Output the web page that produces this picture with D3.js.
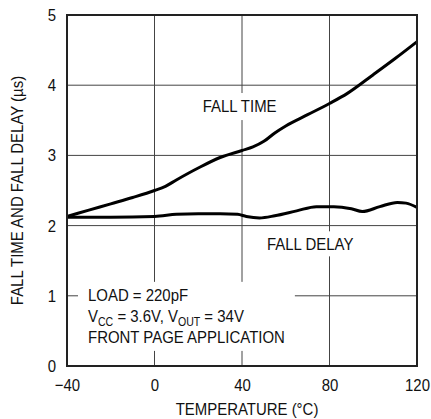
<!DOCTYPE html>
<html>
<head>
<meta charset="utf-8">
<script src="https://cdn.jsdelivr.net/npm/d3@7"></script>
<style>
  body { margin: 0; background: #fff; }
  text { font-family: "Liberation Sans", Arial, sans-serif; fill: #111; }
</style>
</head>
<body>
<div id="chart"></div>
<script>
// data
const fallTimeTemp = [-40, -30, -20, -10, 0, 5, 10, 20, 30, 40, 45, 50, 55, 60, 70, 80, 88, 100, 110, 120];
const fallTimeVal  = [2.13, 2.22, 2.31, 2.40, 2.50, 2.56, 2.65, 2.82, 2.97, 3.07, 3.12, 3.20, 3.32, 3.42, 3.58, 3.74, 3.88, 4.15, 4.38, 4.62];
const fallDelayTemp = [-40, -20, 0, 10, 20, 30, 38, 42, 48, 55, 65, 74, 82, 90, 95, 103, 111, 115, 120];
const fallDelayVal  = [2.12, 2.12, 2.13, 2.16, 2.17, 2.17, 2.16, 2.13, 2.11, 2.14, 2.21, 2.27, 2.27, 2.24, 2.20, 2.27, 2.33, 2.32, 2.26];
const xTicks = [-40, 0, 40, 80, 120];
const yTicks = [0, 1, 2, 3, 4, 5];

const margin = { top: 15, right: 14, bottom: 53, left: 67 };
const W = 431, H = 419;
const width = W - margin.left - margin.right;
const height = H - margin.top - margin.bottom;
const fs = 17;
const sx = 0.88; // squeeze to mimic a condensed face

const svg = d3.select('#chart').append('svg')
  .attr('width', W).attr('height', H)
  .append('g')
  .attr('transform', `translate(${margin.left},${margin.top})`);

const x = d3.scaleLinear().domain([-40, 120]).range([0, width]);
const y = d3.scaleLinear().domain([0, 5]).range([height, 0]);

function label(parent, px, py, str) {
  return parent.append('text')
    .attr('transform', `translate(${px},${py}) scale(${sx},1)`)
    .attr('font-size', fs)
    .text(str);
}

// grid
const grid = svg.append('g').attr('class', 'grid');
grid.selectAll('.vgrid').data(xTicks.slice(1, -1)).enter().append('line')
  .attr('x1', d => x(d)).attr('x2', d => x(d))
  .attr('y1', 0).attr('y2', height)
  .attr('stroke', '#444').attr('stroke-width', 1);
grid.selectAll('.hgrid').data(yTicks.slice(1, -1)).enter().append('line')
  .attr('y1', d => y(d)).attr('y2', d => y(d))
  .attr('x1', 0).attr('x2', width)
  .attr('stroke', '#444').attr('stroke-width', 1);

// labels with white boxes that cut the grid
const labels = svg.append('g');
function boxed(g, padX, padTop, padBot) {
  const b = g.node().getBBox();
  g.insert('rect', ':first-child')
    .attr('x', b.x - padX).attr('y', b.y + 4 - padTop)
    .attr('width', b.width + 2 * padX).attr('height', b.height - 7 + padTop + padBot)
    .attr('fill', '#fff');
}

const ft = labels.append('g');
label(ft, x(22), y(3.62), 'FALL TIME');
boxed(ft, 8, 8, 8);

const fd = labels.append('g');
label(fd, x(51.4), y(1.65), 'FALL DELAY');
boxed(fd, 8, 8, 6);

const cond = labels.append('g');
const cx = x(-30.4), cy = y(0.93);
label(cond, cx, cy, 'LOAD = 220pF');
const t2 = label(cond, cx, cy + 21, null);
t2.append('tspan').text('V');
t2.append('tspan').attr('font-size', 12).attr('dy', 4).text('CC');
t2.append('tspan').attr('dy', -4).text(' = 3.6V, V');
t2.append('tspan').attr('font-size', 12).attr('dy', 4).text('OUT');
t2.append('tspan').attr('dy', -4).text(' = 34V');
label(cond, cx, cy + 42, 'FRONT PAGE APPLICATION');
boxed(cond, 10, 8, 8);

// curves
const line = d3.line().x(d => x(d[0])).y(d => y(d[1])).curve(d3.curveMonotoneX);
svg.append('path').datum(d3.zip(fallTimeTemp, fallTimeVal))
  .attr('d', line).attr('fill', 'none').attr('stroke', '#000').attr('stroke-width', 3);
svg.append('path').datum(d3.zip(fallDelayTemp, fallDelayVal))
  .attr('d', line).attr('fill', 'none').attr('stroke', '#000').attr('stroke-width', 3);

// frame
svg.append('rect').attr('x', 0).attr('y', 0).attr('width', width).attr('height', height)
  .attr('fill', 'none').attr('stroke', '#222').attr('stroke-width', 2);

// axes (labels only)
const fmt = d => d < 0 ? '\u2212' + Math.abs(d) : String(d);
const xAxis = svg.append('g').attr('transform', `translate(0,${height})`)
  .call(d3.axisBottom(x).tickValues(xTicks).tickFormat(fmt).tickSize(0).tickPadding(13));
const yAxis = svg.append('g')
  .call(d3.axisLeft(y).tickValues(yTicks).tickFormat(fmt).tickSize(0).tickPadding(12.5));
[xAxis, yAxis].forEach(a => {
  a.select('.domain').remove();
  a.selectAll('text').attr('font-size', fs).attr('font-family', null).attr('fill', '#111')
    .attr('transform', `scale(${sx},1)`);
});
// keep x tick labels centred on their ticks after the squeeze
xAxis.selectAll('.tick text').attr('transform', `scale(${sx},1)`);

const xl = svg.append('text')
  .attr('transform', `translate(${width / 2 + 5},${height + 49}) scale(${sx},1)`)
  .attr('text-anchor', 'middle').attr('font-size', fs)
  .text('TEMPERATURE (°C)');

svg.append('text')
  .attr('transform', `translate(-44,${height / 2}) rotate(-90) scale(${sx},1)`)
  .attr('text-anchor', 'middle').attr('font-size', fs)
  .text('FALL TIME AND FALL DELAY (µs)');
</script>
</body>
</html>
